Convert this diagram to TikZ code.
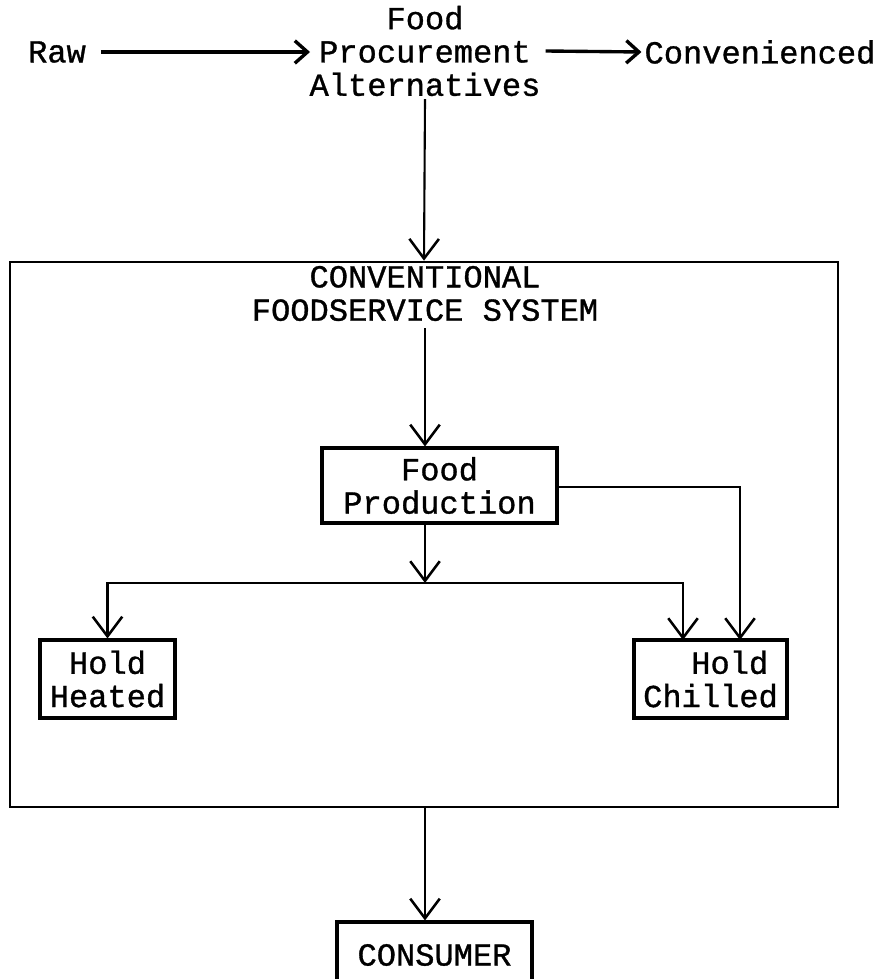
\documentclass[tikz,border=0pt]{standalone}
\usepackage{fontspec}
\setmainfont[FakeBold=1]{Liberation Mono}
\usetikzlibrary{arrows.meta}
\tikzset{
  lbl/.style={align=center,inner sep=2pt,font=\fontsize{22.8}{23.7}\selectfont},
  box/.style={lbl,draw,line width=2.2pt},
  arr/.style={line width=1.5pt,-{Straight Barb[length=14pt,width=21pt,line width=1.8pt]}},
  fat/.style={line width=2.4pt,-{Straight Barb[length=9pt,width=16pt,line width=2.4pt]}}
}
\begin{document}
\begin{tikzpicture}[x=0.025cm,y=-0.025cm]
\useasboundingbox (0,0) rectangle (882,979);
\clip (0,0) rectangle (882,979);
\node[lbl] (raw) at (57,52) {Raw};
\node[lbl] (proc) at (425,51) {Food\\Procurement\\Alternatives};
\node[lbl] (conv) at (760,52) {Convenienced};
\draw[fat] (raw.east) ++(12,0) -- (310,52);
\draw[fat] (proc.east) ++(2,0) -- (conv.west);
\node[draw,line width=1.8pt,minimum width=20.7cm,minimum height=13.625cm] (sys) at (424,534.5) {};
\node[lbl] (title) at (425,293.5) {CONVENTIONAL\\FOODSERVICE SYSTEM};
\draw[arr] (proc.south) -- (sys.north);
\node[box,minimum width=5.875cm,minimum height=1.875cm] (prod) at (439.5,485.5) {Food\\Production};
\node[box,minimum width=3.375cm,minimum height=1.95cm] (heat) at (107.5,679) {Hold\\Heated};
\node[box,minimum width=3.825cm,minimum height=1.95cm] (chill) at (710.5,679) {\ \ Hold\\Chilled};
\node[box,minimum width=4.875cm,minimum height=1.65cm] (cons) at (434.5,955) {CONSUMER};
\draw[arr] (title.south) ++(0,4) -- (prod.north -| title.south);
\coordinate (split) at (425,583);
\coordinate (cin) at (683,640);
\coordinate (cin2) at (740,640);
\draw[arr] (prod.south -| split) -- (split);
\draw[arr] (split) -| (heat.north);
\draw[arr] (split) -| (cin);
\draw[arr] (prod.east |- 0,487) -| (cin2);
\draw[arr] (sys.south -| title) -- (cons.north -| title);
\end{tikzpicture}
\end{document}
